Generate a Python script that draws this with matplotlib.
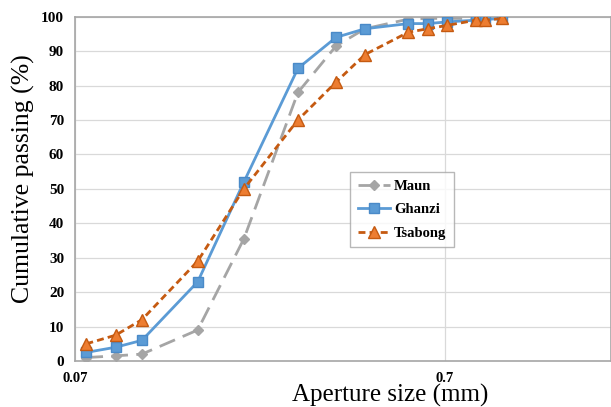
import numpy as np
import matplotlib.pyplot as plt
from matplotlib.ticker import FixedLocator, NullLocator

plt.rcParams['font.family'] = ['Liberation Serif', 'DejaVu Serif']

size = [0.075, 0.09, 0.106, 0.15, 0.2, 0.28, 0.355, 0.425, 0.557, 0.629, 0.71, 0.85, 0.9, 1.0]
maun = [1, 1.5, 2, 9, 35.5, 78, 91.5, 96.5, 99.3, 99.5, 99.5, 99.5, 99.5, 99.7]
ghanzi = [2.5, 4, 6, 23, 52, 85, 94, 96.5, 98, 98, 98.5, 99, 99.2, 99.5]
tsabong = [5, 7.5, 12, 29, 50, 70, 81, 89, 95.5, 96.5, 97.5, 99, 99, 99.5]

fig = plt.figure(figsize=(6.11, 4.07), dpi=100)
ax = fig.add_axes([75.3/611, 1-361/407, 1-75.3/611, (361-16.7)/407])

ax.plot(size, maun, color='#A5A5A5', lw=2, ls=(0, (6, 3)), marker='D', ms=5.5,
        mfc='#A5A5A5', mec='#A5A5A5', label='Maun', zorder=3)
ax.plot(size, ghanzi, color='#5B9BD5', lw=2, marker='s', ms=7,
        mfc='#5B9BD5', mec='#4A8AC8', label='Ghanzi', zorder=4)
ax.plot(size, tsabong, color='#C55A11', lw=2, ls=(0, (2.5, 1.5)), marker='^', ms=8,
        mfc='#ED7D31', mec='#C55A11', label='Tsabong', zorder=5)

ax.set_xscale('log')
ax.set_xlim(0.07, 0.07*10**(536/370))
ax.set_ylim(0, 100)
ax.xaxis.set_major_locator(FixedLocator([0.07, 0.7]))
ax.xaxis.set_minor_locator(NullLocator())
ax.set_xticklabels(['0.07', '0.7'], fontweight='bold', fontsize=10.5)
ax.set_yticks(range(0, 101, 10))
ax.set_yticklabels([str(v) for v in range(0, 101, 10)], fontweight='bold', fontsize=11)
ax.tick_params(length=0, pad=8)
ax.grid(True, color='#D9D9D9', lw=0.9)
ax.set_axisbelow(True)
for s in ax.spines.values():
    s.set_color('#A6A6A6')
    s.set_linewidth(1.2)

fig.text(23/611, 1-179/407, 'Cumulative passing (%)', rotation=90,
         ha='center', va='center', fontsize=18.5)
fig.text(390/611, 0.0, 'Aperture size (mm)', ha='center', va='bottom', fontsize=18)

leg = ax.legend(loc='upper left', bbox_to_anchor=((343-75.3)/535.7, 1-(165-16.7)/344.3),
                prop={'weight': 'bold', 'size': 10.5}, frameon=True, fancybox=False,
                edgecolor='#A6A6A6', handlelength=2.2, borderpad=0.5, labelspacing=0.7,
                handletextpad=0.3)
leg.get_frame().set_linewidth(1)

fig.savefig('out.png', dpi=100)
